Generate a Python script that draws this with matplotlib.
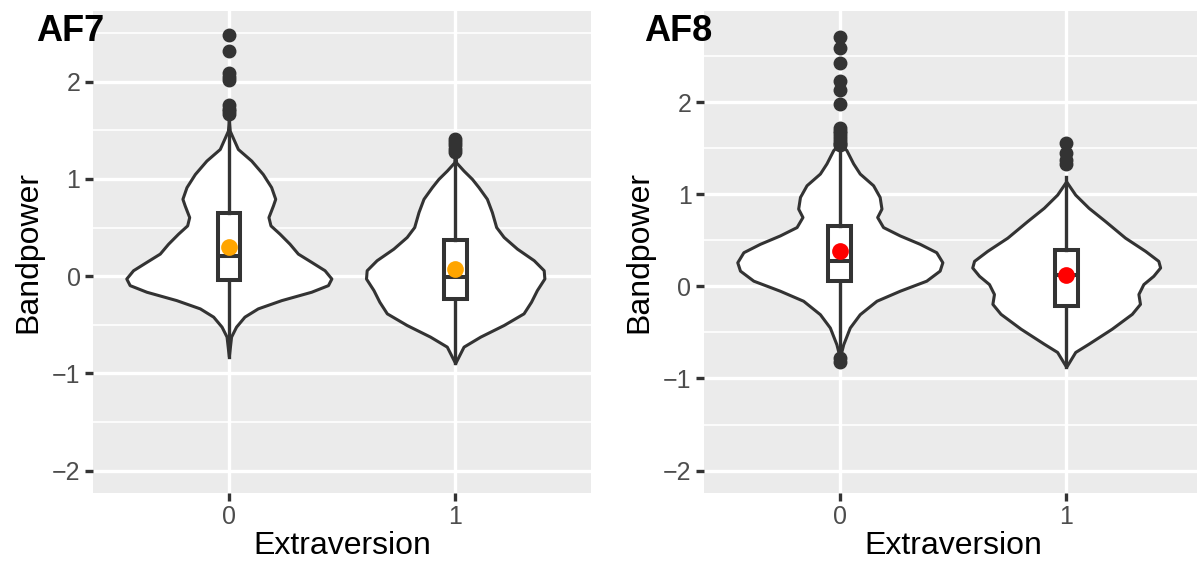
import matplotlib.pyplot as plt

plt.rcParams['font.family'] = ['Liberation Sans', 'DejaVu Sans']

groups = [0, 1]
tick_labels = ['0', '1']

# AF7 violin outlines (Bandpower level, half width)
af7_v0_y = [-0.826, -0.621, -0.519, -0.416, -0.331, -0.246, -0.16, -0.092, -0.024, 0.061, 0.147,
            0.232, 0.334, 0.437, 0.522, 0.607, 0.727, 0.795, 0.915, 1.05, 1.188, 1.307, 1.495, 1.6]
af7_v0_w = [0.0, 0.01, 0.032, 0.069, 0.128, 0.232, 0.364, 0.438, 0.453, 0.423, 0.364,
            0.305, 0.268, 0.224, 0.184, 0.175, 0.195, 0.205, 0.187, 0.15, 0.099, 0.04, 0.004, 0.0]
af7_v1_y = [-0.894, -0.724, -0.621, -0.502, -0.382, -0.263, -0.143, -0.024, 0.061, 0.164, 0.283,
            0.403, 0.505, 0.659, 0.795, 0.915, 1.0, 1.085, 1.17, 1.3]
af7_v1_w = [0.0, 0.037, 0.111, 0.214, 0.302, 0.335, 0.361, 0.394, 0.391, 0.347, 0.273,
            0.214, 0.181, 0.162, 0.14, 0.103, 0.074, 0.037, 0.004, 0.0]

# AF8 violin outlines
af8_v0_y = [-0.775, -0.629, -0.447, -0.302, -0.156, -0.047, 0.062, 0.171, 0.262, 0.371, 0.462,
            0.553, 0.644, 0.753, 0.844, 0.971, 1.098, 1.225, 1.335, 1.48, 1.55]
af8_v0_w = [0.0, 0.015, 0.044, 0.088, 0.162, 0.265, 0.382, 0.441, 0.453, 0.426, 0.353,
            0.265, 0.191, 0.165, 0.184, 0.176, 0.147, 0.088, 0.059, 0.029, 0.0]
af8_v1_y = [-0.874, -0.712, -0.622, -0.46, -0.298, -0.19, -0.083, 0.025, 0.115, 0.205, 0.277,
            0.385, 0.529, 0.709, 0.853, 0.996, 1.14]
af8_v1_w = [0.0, 0.04, 0.099, 0.201, 0.29, 0.326, 0.319, 0.341, 0.385, 0.415, 0.407,
            0.349, 0.26, 0.172, 0.099, 0.04, 0.0]

# box plot summaries
af7_q1 = [-0.04, -0.239]
af7_med = [0.205, -0.007]
af7_q3 = [0.648, 0.375]
af7_lo = [-0.83, -0.89]
af7_hi = [1.62, 1.24]
af7_mean = [0.30, 0.078]
af7_out = [[2.48, 2.31, 2.09, 2.05, 2.02, 1.76, 1.72, 1.70, 1.67],
           [1.41, 1.38, 1.35, 1.31, 1.28]]

af8_q1 = [0.062, -0.209]
af8_med = [0.28, 0.12]
af8_q3 = [0.655, 0.392]
af8_lo = [-0.72, -0.88]
af8_hi = [1.50, 1.19]
af8_mean = [0.382, 0.122]
af8_out = [[2.71, 2.59, 2.43, 2.23, 2.13, 1.98, 1.72, 1.69, 1.66, 1.63, 1.60, 1.57, 1.55, 1.53,
            -0.78, -0.82],
           [1.56, 1.45, 1.37, 1.33]]

DARK = '#333333'


def draw_panel(ax, violins, q1, med, q3, lo, hi, means, outs, mean_color, ylim, title, title_x):
    ax.set_facecolor('#EBEBEB')
    for s in ax.spines.values():
        s.set_visible(False)
    ax.set_axisbelow(True)
    ax.set_xlim(-0.6, 1.6)
    ax.set_ylim(*ylim)
    ax.set_yticks([-2, -1, 0, 1, 2])
    ax.set_yticks([-1.5, -0.5, 0.5, 1.5, 2.5], minor=True)
    ax.set_xticks(groups)
    ax.set_xticklabels(tick_labels)
    ax.grid(True, which='major', color='white', linewidth=2.4)
    ax.grid(True, which='minor', axis='y', color='white', linewidth=1.2)
    ax.tick_params(which='major', length=6, width=2.4, color=DARK, labelsize=18,
                   labelcolor='#4D4D4D', pad=3)
    ax.tick_params(which='minor', length=0)

    for g, (vy, vw) in zip(groups, violins):
        ax.fill_betweenx(vy, [g - w for w in vw], [g + w for w in vw], facecolor='white',
                         edgecolor=DARK, linewidth=2.2, joinstyle='round', zorder=2)

    stats = []
    for i in range(len(groups)):
        stats.append(dict(q1=q1[i], med=med[i], q3=q3[i], whislo=lo[i], whishi=hi[i], fliers=outs[i]))
    ax.bxp(stats, positions=groups, widths=0.1, patch_artist=True, showcaps=False,
           manage_ticks=False,
           boxprops=dict(facecolor='white', edgecolor=DARK, linewidth=2.9),
           medianprops=dict(color=DARK, linewidth=2.9),
           whiskerprops=dict(color=DARK, linewidth=2.4),
           flierprops=dict(marker='o', markerfacecolor=DARK, markeredgecolor=DARK, markersize=9),
           zorder=3)
    ax.scatter(groups, means, s=145, color=mean_color, zorder=5, linewidths=0)

    ax.set_xlabel('Extraversion', fontsize=23, color='black', labelpad=1)
    ax.set_ylabel('Bandpower', fontsize=23, color='black', labelpad=6)
    ax.figure.text(title_x, 1 - 41 / 562, title, fontsize=26, fontweight='bold', va='baseline')


fig = plt.figure(figsize=(11.97, 5.62), dpi=100)
ax1 = fig.add_axes([93 / 1197, 1 - 492.7 / 562, (591 - 93) / 1197, (492.7 - 11) / 562])
ax2 = fig.add_axes([704 / 1197, 1 - 492.7 / 562, (1202 - 704) / 1197, (492.7 - 11) / 562])

draw_panel(ax1, [(af7_v0_y, af7_v0_w), (af7_v1_y, af7_v1_w)], af7_q1, af7_med, af7_q3, af7_lo,
           af7_hi, af7_mean, af7_out, '#FFA500', (-2.225, 2.725), 'AF7', 36 / 1197)
draw_panel(ax2, [(af8_v0_y, af8_v0_w), (af8_v1_y, af8_v1_w)], af8_q1, af8_med, af8_q3, af8_lo,
           af8_hi, af8_mean, af8_out, '#FF0000', (-2.24, 2.99), 'AF8', 644 / 1197)

fig.savefig('out.png', dpi=100)
